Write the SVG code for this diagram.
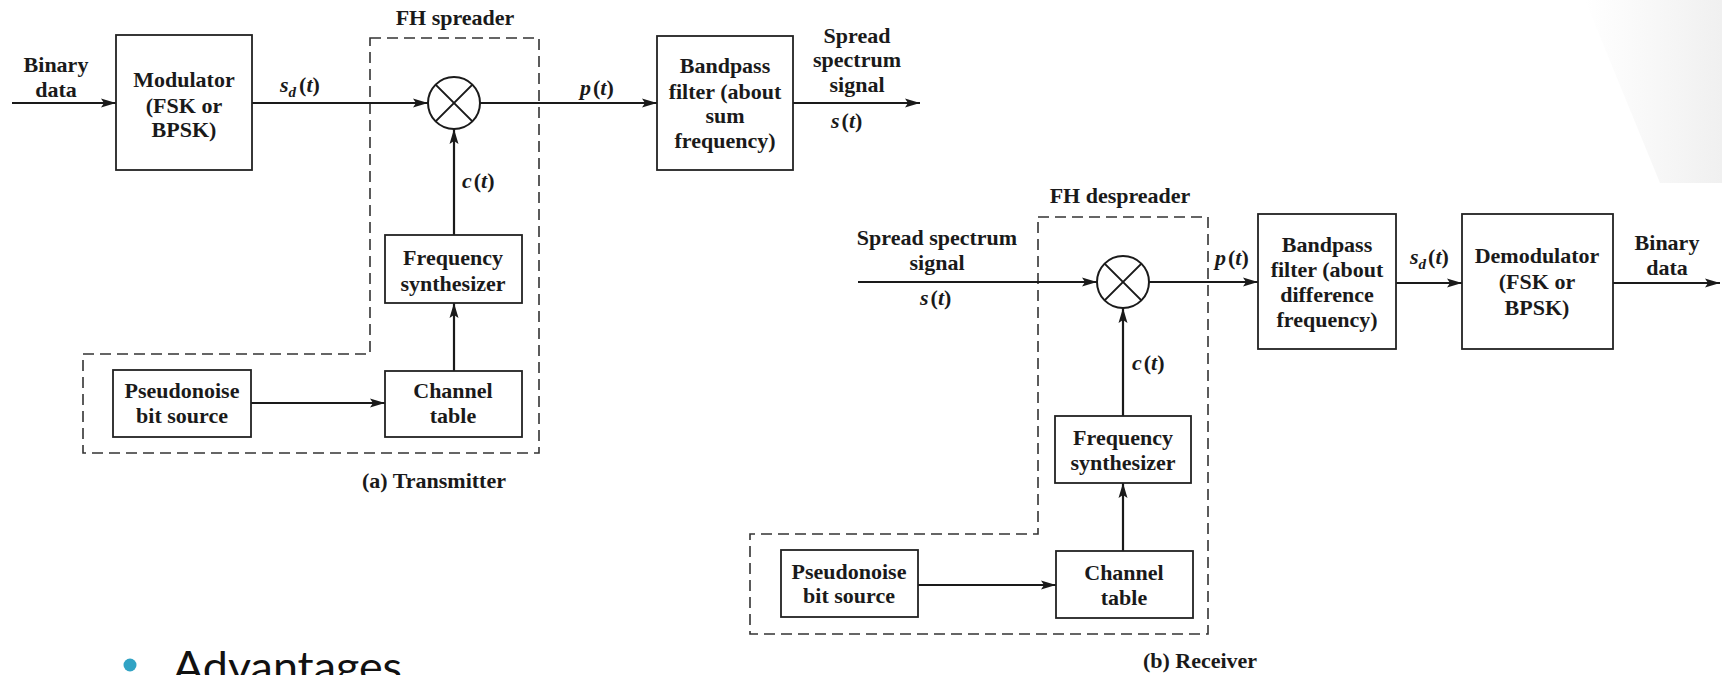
<svg xmlns="http://www.w3.org/2000/svg" width="1722" height="675" viewBox="0 0 1722 675">
<style>
.t{font-family:"Liberation Serif","Times New Roman",serif;font-weight:bold;font-size:22px;fill:#1a1a1a;text-anchor:middle}
.m{font-family:"Liberation Serif","Times New Roman",serif;font-weight:bold;font-size:22px;fill:#1a1a1a}
.i{font-style:italic}
.box{fill:none;stroke:#222;stroke-width:1.8}
.dash{fill:none;stroke:#333;stroke-width:1.6;stroke-dasharray:11 6}
.ln{fill:none;stroke:#1a1a1a;stroke-width:2.2}
.arr{marker-end:url(#ah)}
</style>
<defs>
<marker id="ah" markerUnits="userSpaceOnUse" markerWidth="16" markerHeight="10" refX="15" refY="5" orient="auto">
<path d="M0,0.5 L15,5 L0,9.5 L3,5 Z" fill="#1a1a1a"/>
</marker>
<linearGradient id="bg" x1="0" y1="0" x2="1" y2="0">
<stop offset="0" stop-color="#ffffff"/>
<stop offset="1" stop-color="#f0f0f0"/>
</linearGradient>
</defs>
<rect width="1722" height="675" fill="#fff"/>
<polygon points="1585,0 1722,0 1722,183 1660,183" fill="url(#bg)"/>

<!-- dashed groupings -->
<g id="fh-spreader">
<path class="dash" d="M370,38 H539 V453 H83 V354 H370 Z"/>
<text class="t" x="455" y="25">FH spreader</text>
</g>
<g id="fh-despreader">
<path class="dash" d="M1038,217 H1208 V634 H750 V534 H1038 Z"/>
<text class="t" x="1120" y="203">FH despreader</text>
</g>

<!-- connectors -->
<g id="connectors">
<line class="ln arr" x1="12" y1="103" x2="116" y2="103"/>
<line class="ln arr" x1="252" y1="103" x2="428" y2="103"/>
<line class="ln arr" x1="480" y1="103" x2="657" y2="103"/>
<line class="ln arr" x1="793" y1="103" x2="920" y2="103"/>
<line class="ln arr" x1="454" y1="235" x2="454" y2="129"/>
<line class="ln arr" x1="454" y1="371" x2="454" y2="303"/>
<line class="ln arr" x1="251" y1="403" x2="385" y2="403"/>

<line class="ln arr" x1="858" y1="282" x2="1097" y2="282"/>
<line class="ln arr" x1="1149" y1="282" x2="1258" y2="282"/>
<line class="ln arr" x1="1396" y1="283" x2="1462" y2="283"/>
<line class="ln arr" x1="1613" y1="283" x2="1720" y2="283"/>
<line class="ln arr" x1="1123" y1="416" x2="1123" y2="308"/>
<line class="ln arr" x1="1123" y1="551" x2="1123" y2="483"/>
<line class="ln arr" x1="918" y1="585" x2="1056" y2="585"/>
</g>

<!-- transmitter labels -->
<g id="tx-labels">
<text class="t" x="56" y="72">Binary</text>
<text class="t" x="56" y="97">data</text>
<text class="m" x="280" y="92"><tspan class="i">s</tspan><tspan class="i" font-size="15" dy="5">d</tspan><tspan dy="-5" dx="3">(</tspan><tspan class="i">t</tspan>)</text>
<text class="m" x="580" y="95"><tspan class="i">p</tspan><tspan dx="2">(</tspan><tspan class="i">t</tspan>)</text>
<text class="m" x="462" y="188"><tspan class="i">c</tspan><tspan dx="2">(</tspan><tspan class="i">t</tspan>)</text>
<text class="t" x="857" y="43">Spread</text>
<text class="t" x="857" y="67">spectrum</text>
<text class="t" x="857" y="92">signal</text>
<text class="m" x="831" y="128"><tspan class="i">s</tspan><tspan dx="2">(</tspan><tspan class="i">t</tspan>)</text>
<text class="t" x="434" y="488">(a) Transmitter</text>
</g>

<g id="modulator">
<rect class="box" x="116" y="35" width="136" height="135"/>
<text class="t" x="184" y="87">Modulator</text>
<text class="t" x="184" y="113">(FSK or</text>
<text class="t" x="184" y="137">BPSK)</text>
</g>
<g id="mixer-tx">
<circle cx="454" cy="103" r="26" fill="none" stroke="#1a1a1a" stroke-width="2"/>
<path d="M435.6,84.6 L472.4,121.4 M472.4,84.6 L435.6,121.4" stroke="#1a1a1a" stroke-width="2"/>
</g>
<g id="bandpass-tx">
<rect class="box" x="657" y="36" width="136" height="134"/>
<text class="t" x="725" y="73">Bandpass</text>
<text class="t" x="725" y="99">filter (about</text>
<text class="t" x="725" y="123">sum</text>
<text class="t" x="725" y="148">frequency)</text>
</g>
<g id="freqsynth-tx">
<rect class="box" x="385" y="235" width="137" height="68"/>
<text class="t" x="453" y="265">Frequency</text>
<text class="t" x="453" y="291">synthesizer</text>
</g>
<g id="channel-tx">
<rect class="box" x="385" y="371" width="137" height="66"/>
<text class="t" x="453" y="398">Channel</text>
<text class="t" x="453" y="423">table</text>
</g>
<g id="pn-tx">
<rect class="box" x="113" y="370" width="138" height="67"/>
<text class="t" x="182" y="398">Pseudonoise</text>
<text class="t" x="182" y="423">bit source</text>
</g>

<!-- receiver labels -->
<g id="rx-labels">
<text class="t" x="937" y="245">Spread spectrum</text>
<text class="t" x="937" y="270">signal</text>
<text class="m" x="920" y="305"><tspan class="i">s</tspan><tspan dx="2">(</tspan><tspan class="i">t</tspan>)</text>
<text class="m" x="1215" y="265"><tspan class="i">p</tspan><tspan dx="2">(</tspan><tspan class="i">t</tspan>)</text>
<text class="m" x="1132" y="370"><tspan class="i">c</tspan><tspan dx="2">(</tspan><tspan class="i">t</tspan>)</text>
<text class="m" x="1410" y="264"><tspan class="i">s</tspan><tspan class="i" font-size="15" dy="5">d</tspan><tspan dy="-5" dx="2">(</tspan><tspan class="i">t</tspan>)</text>
<text class="t" x="1667" y="250">Binary</text>
<text class="t" x="1667" y="275">data</text>
<text class="t" x="1200" y="668">(b) Receiver</text>
</g>
<g id="mixer-rx">
<circle cx="1123" cy="282" r="26" fill="none" stroke="#1a1a1a" stroke-width="2"/>
<path d="M1104.6,263.6 L1141.4,300.4 M1141.4,263.6 L1104.6,300.4" stroke="#1a1a1a" stroke-width="2"/>
</g>
<g id="bandpass-rx">
<rect class="box" x="1258" y="214" width="138" height="135"/>
<text class="t" x="1327" y="252">Bandpass</text>
<text class="t" x="1327" y="277">filter (about</text>
<text class="t" x="1327" y="302">difference</text>
<text class="t" x="1327" y="327">frequency)</text>
</g>
<g id="demodulator">
<rect class="box" x="1462" y="214" width="151" height="135"/>
<text class="t" x="1537" y="263">Demodulator</text>
<text class="t" x="1537" y="289">(FSK or</text>
<text class="t" x="1537" y="315">BPSK)</text>
</g>
<g id="freqsynth-rx">
<rect class="box" x="1055" y="416" width="136" height="67"/>
<text class="t" x="1123" y="445">Frequency</text>
<text class="t" x="1123" y="470">synthesizer</text>
</g>
<g id="channel-rx">
<rect class="box" x="1056" y="551" width="137" height="67"/>
<text class="t" x="1124" y="580">Channel</text>
<text class="t" x="1124" y="605">table</text>
</g>
<g id="pn-rx">
<rect class="box" x="781" y="550" width="137" height="67"/>
<text class="t" x="849" y="579">Pseudonoise</text>
<text class="t" x="849" y="603">bit source</text>
</g>

<g id="advantages">
<circle cx="130" cy="665" r="6.5" fill="#31a3c4"/>
<text x="173" y="682" font-family="Lato, 'Open Sans', sans-serif" font-size="42" textLength="229" lengthAdjust="spacingAndGlyphs" fill="#111">Advantages</text>
</g>
</svg>
